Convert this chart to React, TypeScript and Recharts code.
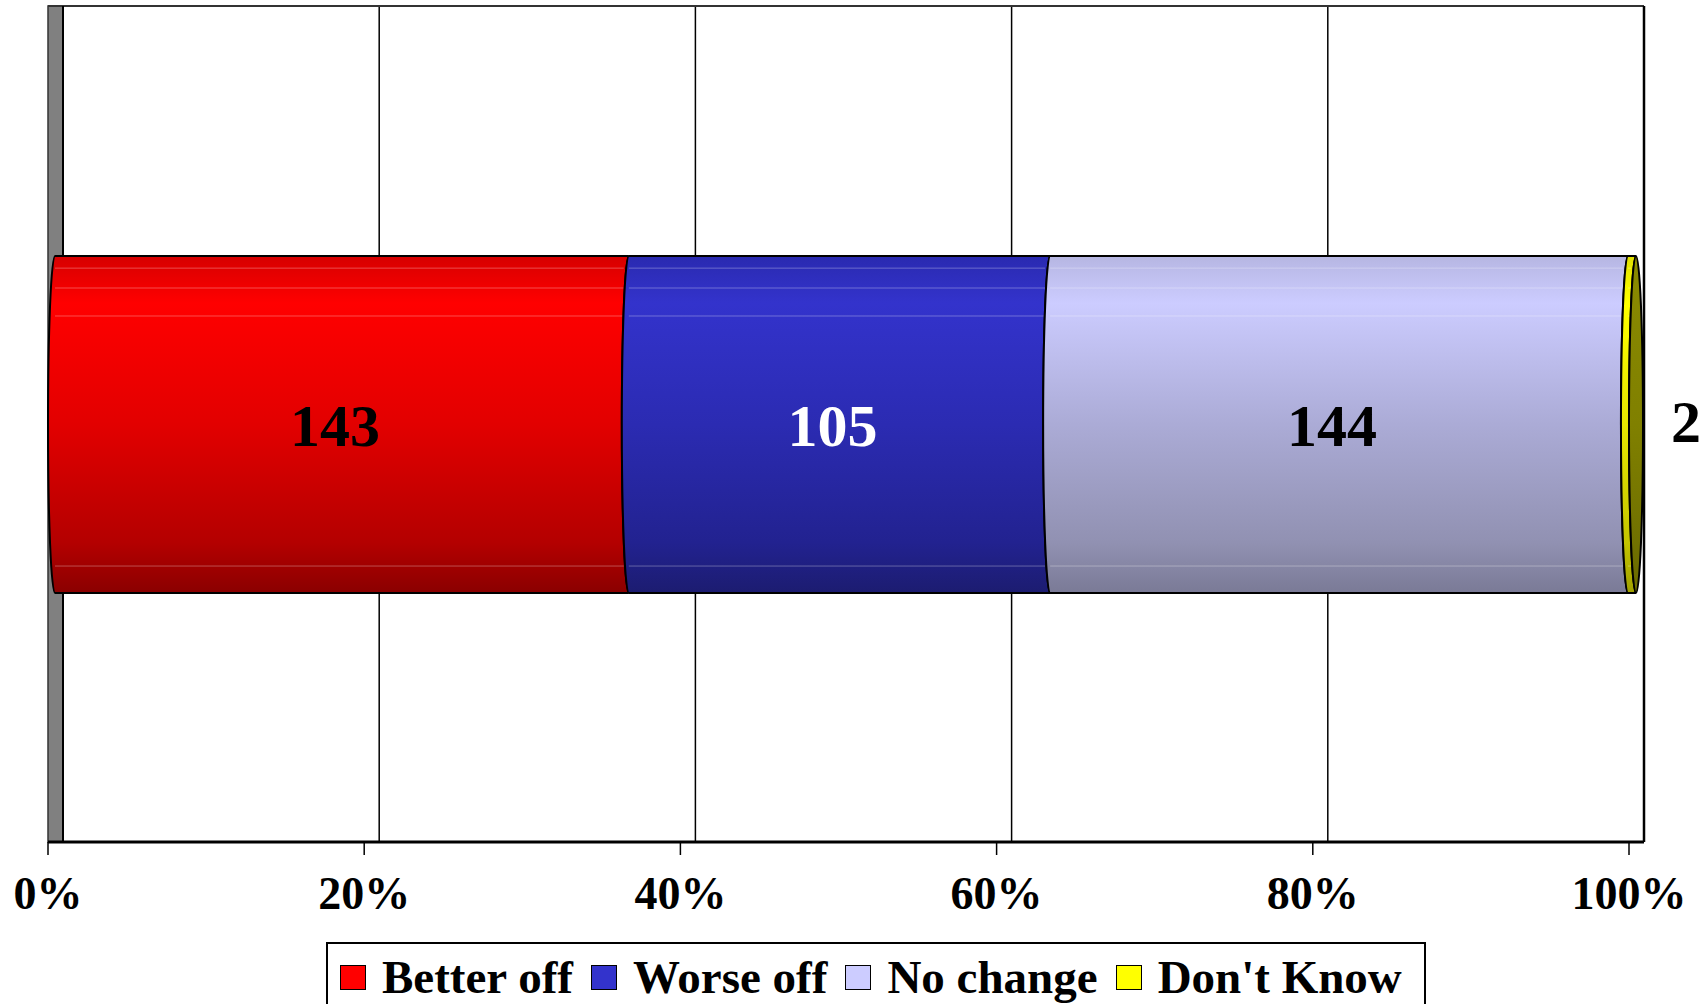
import React from "react"
import { Bar, BarChart, CartesianGrid, LabelList, Legend, ReferenceArea, XAxis, YAxis } from "recharts"

// survey answers, one stacked bar
const categories = ["All"]
const seriesKeys = ["better", "worse", "same", "dunno"]
const seriesNames = ["Better off", "Worse off", "No change", "Don't Know"]
const seriesValues = [143, 105, 144, 2]
const tickValues = [0, 0.2, 0.4, 0.6, 0.8, 1]
const tickLabels = ["0%", "20%", "40%", "60%", "80%", "100%"]

const data = categories.map((name) => {
  const row: Record<string, string | number> = { name }
  seriesKeys.forEach((k, i) => (row[k] = seriesValues[i]))
  return row
})

const FONT = "'Liberation Serif', 'Times New Roman', serif"
const DEPTH = 15 // 3d depth of the back wall
const RX = 7 // half width of the cylinder end

const fills = ["#ff0000", "#3333cc", "#ccccff", "#ffff00"]
const labelColors = ["#000", "#fff", "#000", "#000"]

const gradients = [
  ["#d60000", "#ff0000", "#e20000", "#b40000", "#8a0000"],
  ["#2a2ab0", "#3333cc", "#2b2bb2", "#222290", "#1c1c70"],
  ["#b6b6e2", "#ccccff", "#ababd6", "#9191b2", "#7a7a96"],
  ["#e0e000", "#ffff00", "#e6e600", "#c4c400", "#a0a000"],
]
const stops = [0, 0.14, 0.5, 0.85, 1]

function Cylinder(props: any) {
  const { x, y, width, height, idx, cap } = props
  if (width == null || height == null) return null
  const xa = x - DEPTH
  const xb = x + width - DEPTH
  const ry = height / 2
  const d = `M ${xa + RX} ${y} A ${RX} ${ry} 0 0 0 ${xa + RX} ${y + height} L ${xb + RX} ${y + height} A ${RX} ${ry} 0 0 1 ${xb + RX} ${y} Z`
  const streaks = [0.036, 0.095, 0.178, 0.92]
  return (
    <g>
      <path d={d} fill={`url(#cyl${idx})`} stroke="none" />
      {streaks.map((s) => (
        <line
          key={s}
          x1={xa + RX}
          x2={xb + 2}
          y1={y + height * s}
          y2={y + height * s}
          stroke="#fff"
          strokeOpacity={0.3}
          strokeWidth={1}
        />
      ))}
      <path d={d} fill="none" stroke="#000" strokeWidth={2} />
      {cap && (
        <ellipse cx={xb + RX} cy={y + ry} rx={RX} ry={ry} fill="url(#capGrad)" stroke="#000" strokeWidth={2} />
      )}
    </g>
  )
}

const renderLabel = (color: string, outside: boolean) => (props: any) => {
  const vb = props.viewBox || props
  const { x, y, width, height } = vb
  const cy = y + height / 2
  if (outside) {
    return (
      <text x={x + width - DEPTH + 42} y={cy + 17} fill={color} fontSize={60} fontWeight="bold" fontFamily={FONT} textAnchor="start">
        {props.value}
      </text>
    )
  }
  return (
    <text x={x + width / 2 - DEPTH} y={cy + 21} fill={color} fontSize={60} fontWeight="bold" fontFamily={FONT} textAnchor="middle">
      {props.value}
    </text>
  )
}

function AxisTick(props: any) {
  const { x, y, payload } = props
  const i = tickValues.indexOf(payload.value)
  return (
    <g>
      <line x1={x - DEPTH} x2={x - DEPTH} y1={y} y2={y + 13} stroke="#000" strokeWidth={1.5} />
      <text x={x - DEPTH} y={y + 67} textAnchor="middle" fontSize={46} fontWeight="bold" fontFamily={FONT} fill="#000">
        {tickLabels[i]}
      </text>
    </g>
  )
}

function Frame(props: any) {
  const { x, y, width, height } = props
  return (
    <g>
      <rect x={x - DEPTH} y={y} width={DEPTH} height={height} fill="#808080" stroke="#333" strokeWidth={1.5} />
      <line x1={x - DEPTH} x2={x + width} y1={y} y2={y} stroke="#333" strokeWidth={2} />
      <line x1={x + width} x2={x + width} y1={y} y2={y + height} stroke="#000" strokeWidth={2.5} />
      <line x1={x - DEPTH} x2={x + width} y1={y + height} y2={y + height} stroke="#000" strokeWidth={3} />
      <line x1={x} x2={x} y1={y} y2={y + height} stroke="#000" strokeWidth={2} />
    </g>
  )
}

// legend in series order (recharts sorts its payload by name)
function LegendBox() {
  return (
    <div
      style={{
        boxSizing: "border-box",
        width: 1100,
        height: 80,
        border: "2px solid #000",
        background: "#fff",
        display: "flex",
        alignItems: "flex-start",
        paddingLeft: 12,
        paddingTop: 10,
        fontFamily: FONT,
        fontWeight: "bold",
        fontSize: 47,
        lineHeight: "47px",
        color: "#000",
      }}
    >
      {seriesNames.map((name, i) => (
        <div key={name} style={{ display: "flex", alignItems: "center", marginRight: 18, whiteSpace: "nowrap" }}>
          <span
            style={{
              display: "inline-block",
              boxSizing: "border-box",
              width: 26,
              height: 25,
              background: fills[i],
              border: "1.5px solid #000",
              marginRight: 16,
            }}
          />
          <span>{name}</span>
        </div>
      ))}
    </div>
  )
}

export default function App() {
  return (
    <div style={{ position: "absolute", left: 0, top: 0, width: 1708, height: 1004, overflow: "hidden", background: "#fff" }}>
      <BarChart
        width={1708}
        height={1004}
        data={data}
        layout="vertical"
        stackOffset="expand"
        margin={{ top: 6, right: 64, left: 63, bottom: 82 }}
      >
        <defs>
          {gradients.map((g, i) => (
            <linearGradient key={i} id={`cyl${i}`} x1="0" y1="0" x2="0" y2="1">
              {g.map((c, j) => (
                <stop key={j} offset={stops[j]} stopColor={c} />
              ))}
            </linearGradient>
          ))}
          <linearGradient id="capGrad" x1="0" y1="0" x2="0" y2="1">
            <stop offset={0} stopColor="#8a8a00" />
            <stop offset={0.5} stopColor="#808000" />
            <stop offset={1} stopColor="#6a6a00" />
          </linearGradient>
        </defs>
        <ReferenceArea x1={0} x2={1} ifOverflow="visible" shape={<Frame />} />
        <CartesianGrid horizontal={false} vertical stroke="#000" strokeWidth={1.5} />
        <XAxis
          type="number"
          domain={[0, 1]}
          ticks={tickValues}
          interval={0}
          height={80}
          tickSize={0}
          tickMargin={0}
          axisLine={false}
          tickLine={false}
          tick={<AxisTick />}
        />
        <YAxis type="category" dataKey="name" hide width={0} />
        {seriesKeys.map((k, i) => (
          <Bar
            key={k}
            dataKey={k}
            name={seriesNames[i]}
            stackId="a"
            fill={fills[i]}
            barSize={337}
            isAnimationActive={false}
            shape={(p: any) => <Cylinder {...p} idx={i} cap={i === seriesKeys.length - 1} />}
          >
            <LabelList dataKey={k} content={renderLabel(labelColors[i], i === seriesKeys.length - 1)} />
          </Bar>
        ))}
        <Legend
          layout="horizontal"
          verticalAlign="middle"
          align="center"
          content={<LegendBox />}
          wrapperStyle={{ left: 326, top: 942, width: 1100, height: 80, bottom: "auto", right: "auto" }}
        />
      </BarChart>
    </div>
  )
}
